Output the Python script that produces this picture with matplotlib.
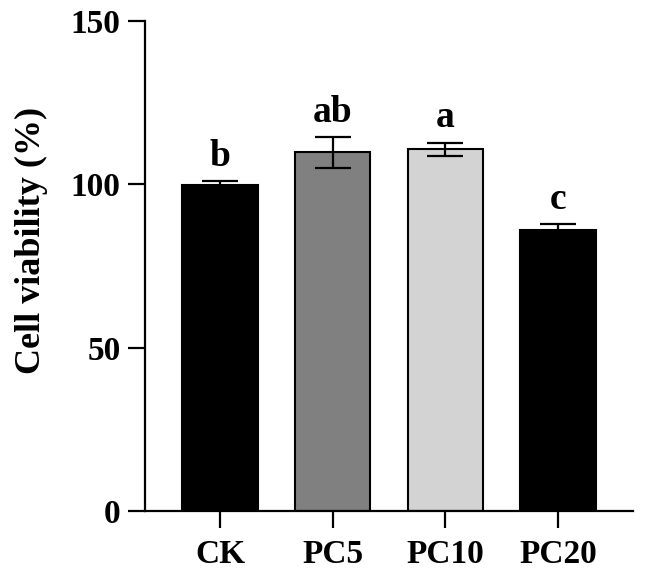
import matplotlib
matplotlib.use("Agg")
import matplotlib.pyplot as plt

categories = ["CK", "PC5", "PC10", "PC20"]
values = [99.7, 109.75, 110.7, 85.9]
errors = [1.2, 4.75, 2.1, 2.0]
letters = ["b", "ab", "a", "c"]
colors = ["#000000", "#808080", "#d3d3d3", "#000000"]
yticks = [0, 50, 100, 150]

plt.rcParams['font.family'] = ['Liberation Serif', 'DejaVu Serif']
plt.rcParams['font.weight'] = 'bold'

fig = plt.figure(figsize=(6.45, 5.77), dpi=100)
# axes: x from 145 px to 633 px, y from 511 px (0) to 21 px (150)
ax = fig.add_axes([145 / 645, 1 - 511 / 577, 488 / 645, 490 / 577])

x = list(range(len(categories)))
ax.bar(x, values, width=0.67, color=colors, edgecolor='black', linewidth=1.5, zorder=2)
ax.errorbar(x, values, yerr=errors, fmt='none', ecolor='black', elinewidth=1.6,
            capsize=13, capthick=1.6, zorder=3)
for xi, v, e, l in zip(x, values, errors, letters):
    ax.text(xi, v + e + 4.6, l, ha='center', va='baseline', fontsize=27, fontweight='bold')

ax.set_xlim(-0.668, 3.668)
ax.set_ylim(0, 150)
ax.set_yticks(yticks)
ax.set_xticks(x)
ax.set_xticklabels(categories)
ax.spines['top'].set_visible(False)
ax.spines['right'].set_visible(False)
for s in ['left', 'bottom']:
    ax.spines[s].set_linewidth(1.6)
ax.tick_params(axis='both', width=1.6, length=12.5, labelsize=24, pad=5)
ax.tick_params(axis='x', pad=8)
for lab in ax.get_xticklabels() + ax.get_yticklabels():
    lab.set_fontweight('bold')
ax.set_ylabel("Cell viability (%)", fontsize=26, fontweight='bold')
ax.yaxis.set_label_coords((48 - 145) / 488, (511 - 240) / 490)

fig.savefig("out.png", dpi=100)
